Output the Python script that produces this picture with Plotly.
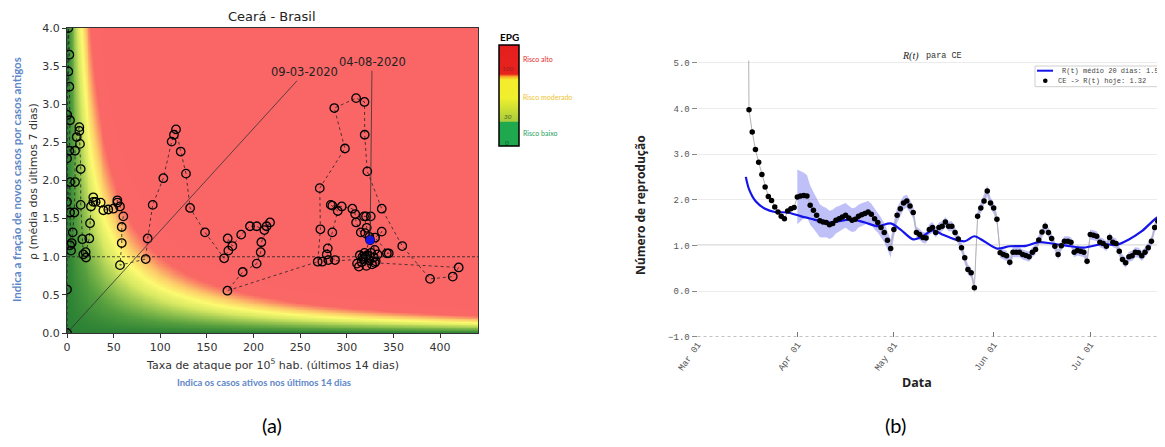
import numpy as np
import pandas as pd
import plotly.graph_objects as go

W, H = 1165, 447
# the page body adds an 8px offset; place everything in screen pixels
OX, OY = 8, 8


def px(xp):
    return (xp - OX) / W


def py(yp):
    return (H - (yp - OY)) / H


# ---------------- Panel (a): EPG diagram, Ceará ----------------
attack_rate = [
    0, 0, 0.3, 1.4, 2.5, 1.4, 2.5, 3.2, 2.5, 0,
    0, 3.2, 3.2, 4.3, 3.2, 5.0, 6.1, 7.9, 8.6, 8.6,
    10.4, 13.2, 13.2, 13.9, 14.7, 14.7, 16.4, 17.5, 20.4, 20.0,
    23.9, 24.7, 25.7, 28.2, 28.2, 30.7, 36.1, 39.0, 44.3, 49.7,
    54.0, 54.0, 56.8, 60.4, 58.7, 58.7, 56.8, 84.4, 86.5, 91.9,
    103.3, 112.2, 114.7, 116.9, 121.9, 127.6, 132.0, 148.0, 168.5, 173.0,
    172.3, 177.3, 186.8, 196.2, 203.4, 211.6, 214.0, 217.7, 208.4, 207.7,
    203.4, 188.4, 172.0, 268.8, 271.7, 271.0, 298.0, 286.6, 310.0, 319.0,
    319.2, 322.0, 337.5, 359.5, 389.3, 413.6, 420.0, 330.0, 321.0, 316.0,
    311.0, 313.0, 318.0, 273.8, 280.2, 287.4, 278.5, 279.6, 284.5, 290.3,
    282.8, 284.5, 294.6, 306.0, 309.0, 310.0, 315.0, 319.6, 321.4, 318.5,
    320.6, 325.7, 324.2, 320.0, 322.0, 319.0, 324.0, 327.0, 329.0, 331.0,
    333.0, 343.0, 345.0, 330.3, 337.5, 326.0, 314.0, 317.0, 330.0, 325.0,
]
rho = [
    0.0, 0.57, 2.86, 4.0, 3.65, 3.43, 3.23, 2.79, 2.39, 2.29,
    1.72, 1.98, 1.58, 1.08, 1.15, 1.18, 1.32, 1.58, 1.98, 2.39,
    2.57, 2.70, 2.65, 2.48, 2.15, 1.68, 1.23, 1.03, 0.99, 1.06,
    1.24, 1.44, 1.66, 1.78, 1.72, 1.72, 1.71, 1.61, 1.62, 1.63,
    1.74, 1.71, 1.66, 1.53, 1.39, 1.18, 0.89, 0.97, 1.24, 1.68,
    2.03, 2.51, 2.60, 2.67, 2.38, 2.09, 1.64, 1.32, 0.98, 1.08,
    1.24, 1.14, 1.29, 1.40, 1.40, 1.35, 1.40, 1.45, 1.19, 1.06,
    0.91, 0.80, 0.555, 0.935, 1.36, 1.90, 2.42, 2.95, 3.08, 3.03,
    2.60, 2.12, 1.63, 1.14, 0.71, 0.74, 0.86, 0.92, 0.88, 0.93,
    0.91, 0.87, 0.97, 0.935, 0.957, 0.957, 1.03, 1.11, 1.32, 1.60,
    1.68, 1.67, 1.66, 1.63, 1.56, 1.45, 1.32, 1.31, 1.38, 1.53,
    1.53, 1.53, 1.26, 1.00, 1.02, 1.05, 0.95, 0.90, 0.99, 0.94,
    1.03, 1.045, 1.045, 1.25, 1.33, 1.05, 1.02, 1.00, 1.09, 1.22,
]
first_label = "09-03-2020"
last_label = "04-08-2020"
label_first_pos = (255.0, 3.42)
label_last_pos = (327.1, 3.55)

# background risk field (EPG = rho x attack rate)
epg_levels = [0, 15, 30, 45, 60, 75, 90, 100, 150]
epg_colors = ["rgb(42,128,52)", "rgb(85,158,62)", "rgb(150,196,80)",
              "rgb(215,232,98)", "rgb(252,250,112)", "rgb(252,205,105)",
              "rgb(250,140,102)", "rgb(250,104,102)", "rgb(250,102,102)"]
grid_x = np.arange(0, 442, 1.0)
grid_y = np.arange(0, 4.0001, 0.02)
grid_epg = np.outer(grid_y, grid_x)

# EPG legend bar
bar_stops = [0.0, 0.245, 0.25, 0.40, 0.48, 0.66, 0.69, 0.715, 1.0]
bar_colors = ["rgb(32,168,78)", "rgb(32,168,78)", "rgb(170,205,60)",
              "rgb(215,228,50)", "rgb(240,240,45)", "rgb(245,235,45)",
              "rgb(250,170,40)", "rgb(232,35,30)", "rgb(228,30,30)"]
bar_labels = ["Risco alto", "Risco moderado", "Risco baixo"]
bar_label_colors = ["rgb(228,40,40)", "rgb(240,195,45)", "rgb(40,160,90)"]
bar_numbers = ["100", "30", "0"]

# ---------------- Panel (b): R(t) for CE ----------------
r_start = "2020-03-16"
r_values = [
    15.0,
    3.97, 3.48, 3.10, 2.82, 2.55, 2.28, 2.07, 1.98, 1.84, 1.73, 1.64, 1.58, 1.75, 1.80, 1.83,
    2.06, 2.08, 2.09, 2.08, 1.88, 1.77, 1.66, 1.54, 1.51, 1.50,
    1.45, 1.48, 1.55, 1.58, 1.62, 1.66, 1.60, 1.55, 1.57, 1.64,
    1.67, 1.70, 1.73, 1.68, 1.58, 1.50, 1.39, 1.28, 1.11, 0.93,
    1.35, 1.66, 1.80, 1.93, 1.97, 1.86, 1.72, 1.28, 1.24, 1.17,
    1.16, 1.35, 1.39, 1.28, 1.39, 1.42, 1.51, 1.42, 1.42, 1.28,
    1.14, 0.95, 0.73, 0.47, 0.40, 0.07, 1.64, 1.82, 1.97, 2.19, 1.93,
    1.82, 1.57, 0.84, 0.80, 0.77, 0.63, 0.85, 0.85, 0.85, 0.80,
    0.78, 0.75, 0.85, 0.91, 1.12, 1.29, 1.42, 1.28, 1.15, 0.98,
    0.80, 0.99, 1.09, 1.09, 1.07, 0.85, 0.89, 0.87, 0.85, 0.65,
    1.24, 1.22, 1.20, 1.07, 1.04, 0.98, 1.17, 1.07, 1.04, 0.87,
    0.69, 0.62, 0.75, 0.77, 0.85, 0.84, 0.77, 0.85, 0.95, 1.09,
    1.39, 1.53, 1.59, 1.61, 1.60,
]
ci_start = "2020-04-01"
ci_halfwidth = [
    0.60, 0.55, 0.50, 0.46, 0.43, 0.40, 0.38, 0.36, 0.34, 0.32,
    0.31, 0.30, 0.29, 0.28, 0.28, 0.27, 0.27, 0.26, 0.26, 0.25,
    0.25, 0.24, 0.24, 0.23, 0.23, 0.22, 0.22, 0.21, 0.20, 0.20,
    0.18, 0.17, 0.16, 0.15, 0.14, 0.14, 0.13, 0.13, 0.12, 0.12,
    0.12, 0.12, 0.12, 0.11, 0.11, 0.11, 0.11, 0.11, 0.11, 0.11,
    0.11, 0.11, 0.11, 0.11, 0.11, 0.11, 0.12, 0.12, 0.12, 0.12, 0.12,
    0.12, 0.12, 0.11, 0.11, 0.11, 0.11, 0.11, 0.11, 0.11, 0.11,
    0.11, 0.11, 0.11, 0.11, 0.11, 0.11, 0.11, 0.11, 0.11, 0.11,
    0.11, 0.11, 0.11, 0.11, 0.11, 0.11, 0.11, 0.11, 0.11, 0.11,
    0.11, 0.11, 0.11, 0.11, 0.11, 0.11, 0.11, 0.11, 0.11, 0.11,
    0.11, 0.11, 0.11, 0.11, 0.11, 0.11, 0.11, 0.11, 0.11, 0.11,
    0.11, 0.11, 0.11, 0.11, 0.11,
]
mean_dates = ["2020-03-16", "2020-03-17", "2020-03-19", "2020-03-22", "2020-03-25", "2020-03-29",
              "2020-04-02", "2020-04-06", "2020-04-10", "2020-04-14", "2020-04-18", "2020-04-22",
              "2020-04-26", "2020-04-30", "2020-05-03", "2020-05-07", "2020-05-10", "2020-05-13",
              "2020-05-16", "2020-05-20", "2020-05-23", "2020-05-26", "2020-05-29", "2020-06-02",
              "2020-06-06", "2020-06-11", "2020-06-15", "2020-06-19", "2020-06-25", "2020-06-29",
              "2020-07-05", "2020-07-09", "2020-07-13", "2020-07-17", "2020-07-21", "2020-07-23",
              "2020-07-25"]
mean_values = [2.50, 2.23, 1.97, 1.80, 1.73, 1.72, 1.64, 1.57, 1.50, 1.53, 1.57, 1.50,
               1.42, 1.48, 1.35, 1.13, 1.20, 1.33, 1.24, 1.13, 1.09, 1.20, 1.09, 0.93,
               0.98, 0.99, 1.07, 1.04, 0.98, 0.95, 1.03, 1.01, 1.13, 1.31, 1.57, 1.67, 1.72]
legend_mean = "R(t) médio 20 dias: 1.51"
legend_today = "CE -> R(t) hoje: 1.32"

r_dates = pd.date_range(r_start, periods=len(r_values), freq="D")
r_arr = np.array(r_values)
ci_dates = pd.date_range(ci_start, periods=len(ci_halfwidth), freq="D")
ci_center = pd.Series(r_arr, index=r_dates).reindex(ci_dates).values
ci_hw = np.array(ci_halfwidth)

fig = go.Figure()

# ---- panel a traces
fig.add_trace(go.Heatmap(
    x=grid_x, y=grid_y, z=grid_epg, zmin=0, zmax=150, zsmooth="best",
    colorscale=[[lv / 150, c] for lv, c in zip(epg_levels, epg_colors)],
    showscale=False, hoverinfo="skip", xaxis="x", yaxis="y"))
fig.add_trace(go.Scatter(
    x=attack_rate, y=rho, mode="lines+markers", xaxis="x", yaxis="y",
    line=dict(color="#222", width=0.8, dash="dot"),
    marker=dict(symbol="circle-open", size=8.5, color="black", line=dict(width=1.3)),
    showlegend=False))
fig.add_trace(go.Scatter(
    x=attack_rate[-1:], y=rho[-1:], mode="markers", xaxis="x", yaxis="y",
    marker=dict(size=9, color="rgb(20,20,240)"), showlegend=False))

# ---- EPG bar
bar_y = np.linspace(0, 1, 202)
fig.add_trace(go.Heatmap(
    x=[0], y=bar_y, z=[[v] for v in bar_y], zmin=0, zmax=1,
    colorscale=[[s, c] for s, c in zip(bar_stops, bar_colors)],
    showscale=False, hoverinfo="skip", xaxis="x3", yaxis="y3"))

# ---- panel b traces
fig.add_trace(go.Scatter(
    x=ci_dates, y=ci_center - ci_hw, mode="lines", line=dict(width=0),
    xaxis="x2", yaxis="y2", showlegend=False, hoverinfo="skip"))
fig.add_trace(go.Scatter(
    x=ci_dates, y=ci_center + ci_hw, mode="lines", line=dict(width=0),
    fill="tonexty", fillcolor="rgba(60,60,235,0.32)",
    xaxis="x2", yaxis="y2", showlegend=False, hoverinfo="skip"))
fig.add_trace(go.Scatter(
    x=r_dates, y=r_values, mode="lines", line=dict(color="#b3b3b3", width=1),
    xaxis="x2", yaxis="y2", showlegend=False))
fig.add_trace(go.Scatter(
    x=pd.to_datetime(mean_dates), y=mean_values, mode="lines",
    line=dict(color="rgb(20,20,235)", width=2.2, shape="spline", smoothing=0.8),
    xaxis="x2", yaxis="y2", showlegend=False))
fig.add_trace(go.Scatter(
    x=r_dates, y=r_values, mode="markers", marker=dict(color="black", size=5.5),
    xaxis="x2", yaxis="y2", showlegend=False))

tick_a = dict(family="DejaVu Sans", size=11, color="#333")
mono = dict(family="Liberation Mono", size=9, color="#555")

fig.update_layout(
    width=W, height=H, autosize=False,
    margin=dict(l=0, r=0, t=0, b=0, pad=0, autoexpand=False),
    paper_bgcolor="white", plot_bgcolor="white", showlegend=False,
    xaxis=dict(domain=[px(67), px(478)], range=[0, 440.7], anchor="y",
               tick0=0, dtick=50, ticks="outside", ticklen=4, tickcolor="#333",
               showline=True, mirror=True, linecolor="#333", linewidth=1,
               showgrid=False, zeroline=False, tickfont=tick_a, automargin=False),
    yaxis=dict(domain=[py(333), py(28)], range=[0, 4], anchor="x",
               tick0=0, dtick=0.5, tickformat=".1f", ticks="outside", ticklen=4,
               tickcolor="#333", showline=True, mirror=True, linecolor="#333",
               linewidth=1, showgrid=False, zeroline=False, tickfont=tick_a,
               automargin=False),
    xaxis2=dict(domain=[px(697.5), px(1165)], range=["2020-03-01", "2020-07-24 05:00"],
                anchor="y2", type="date", tick0="2020-03-01", dtick="M1",
                tickformat="%b %d", tickangle=-55, ticks="inside", ticklen=5,
                tickcolor="#777", showgrid=False, zeroline=False, showline=False,
                tickfont=mono, automargin=False),
    yaxis2=dict(domain=[py(336.7), py(60.4)], range=[-1.0, 5.05], anchor="x2",
                tick0=-1, dtick=1, tickformat=".1f", ticks="outside", ticklen=5,
                tickcolor="#888", showgrid=True, gridcolor="#ececec",
                zeroline=False, showline=False, tickfont=mono, automargin=False),
    xaxis3=dict(domain=[px(499), px(519)], range=[-0.5, 0.5], anchor="y3",
                visible=False),
    yaxis3=dict(domain=[py(146), py(45)], range=[0, 1], anchor="x3", visible=False),
)

shapes = [
    dict(type="line", xref="x", yref="y", x0=0, x1=440.7, y0=1, y1=1,
         line=dict(color="#222", width=0.8, dash="3px,2px"), layer="above"),
    dict(type="line", xref="x2 domain", yref="y2", x0=0, x1=1, y0=1, y1=1,
         line=dict(color="#8a8a8a", width=1.3), layer="below"),
    dict(type="line", xref="x2 domain", yref="y2", x0=0, x1=1, y0=-1, y1=-1,
         line=dict(color="#999", width=1, dash="dot"), layer="above"),
    dict(type="rect", xref="paper", yref="paper", x0=px(499), x1=px(519),
         y0=py(146), y1=py(45), line=dict(color="black", width=1.5)),
    dict(type="rect", xref="paper", yref="paper", x0=px(1035), x1=px(1175),
         y0=py(86.7), y1=py(66), fillcolor="white", line=dict(color="#cfcfcf", width=1),
         layer="above"),
    dict(type="line", xref="paper", yref="paper", x0=px(1037), x1=px(1053),
         y0=py(70.7), y1=py(70.7), line=dict(color="rgb(20,20,235)", width=2)),
    dict(type="circle", xref="paper", yref="paper", x0=px(1043), x1=px(1047.6),
         y0=py(83), y1=py(78.4), fillcolor="black", line=dict(color="black", width=0)),
]

anns = []


def text(xp, yp, t, font, angle=0, xanchor="center", yanchor="middle"):
    anns.append(dict(xref="paper", yref="paper", x=px(xp), y=py(yp), text=t,
                     showarrow=False, font=font, textangle=angle,
                     xanchor=xanchor, yanchor=yanchor))


# panel a labels
text(272, 16, "Ceará - Brasil", dict(family="DejaVu Sans", size=13, color="#222"))
text(272, 364, "Taxa de ataque por 10<sup>5</sup> hab. (últimos 14 dias)",
     dict(family="DejaVu Sans", size=11, color="#333"))
text(264, 382, "Indica os casos ativos nos últimos 14 dias",
     dict(family="Lato", size=9.5, color="rgb(95,135,200)", weight="bold"))
text(33, 182, "ρ (média dos últimos 7 dias)",
     dict(family="DejaVu Sans", size=11, color="#333"), angle=-90)
text(16, 180, "Indica a fração de novos casos por casos antigos",
     dict(family="Lato", size=11.5, color="rgb(95,135,200)", weight="bold"), angle=-90)
anns.append(dict(xref="x", yref="y", axref="x", ayref="y", x=attack_rate[0], y=rho[0],
                 ax=label_first_pos[0], ay=label_first_pos[1], text=first_label,
                 showarrow=True, arrowhead=0, arrowwidth=0.8, arrowcolor="#333",
                 font=dict(family="DejaVu Sans", size=11.5, color="#222")))
anns.append(dict(xref="x", yref="y", axref="x", ayref="y", x=attack_rate[-1], y=rho[-1],
                 ax=label_last_pos[0], ay=label_last_pos[1], text=last_label,
                 showarrow=True, arrowhead=0, arrowwidth=0.8, arrowcolor="#333",
                 font=dict(family="DejaVu Sans", size=11.5, color="#222")))

# EPG bar labels
text(509, 37, "EPG", dict(family="Lato", size=10, color="black", weight="bold"))
text(521, 59, bar_labels[0], dict(family="Lato", size=7, color=bar_label_colors[0]), xanchor="left")
text(521, 97, bar_labels[1], dict(family="Lato", size=7, color=bar_label_colors[1]), xanchor="left")
text(521, 133, bar_labels[2], dict(family="Lato", size=7, color=bar_label_colors[2]), xanchor="left")
text(508, 69, bar_numbers[0], dict(family="Lato", size=6.5, color="rgb(150,30,30)", style="italic"))
text(508, 116, bar_numbers[1], dict(family="Lato", size=6.5, color="rgb(80,100,40)", style="italic"))
text(507, 142, bar_numbers[2], dict(family="Lato", size=6.5, color="rgb(20,90,50)", style="italic"))

# panel b labels
text(921, 56, "<i>R(t)</i>", dict(family="Liberation Serif", size=10, color="#222"), xanchor="right")
text(924, 56.5, "para CE", dict(family="Liberation Mono", size=8.5, color="#333"), xanchor="left")
text(640, 205, "Número de reprodução",
     dict(family="Open Sans", size=12, color="#222", weight="bold"), angle=-90)
text(917, 382, "Data", dict(family="Open Sans", size=12.5, color="#222", weight="bold"))
text(1060, 70.7, legend_mean, dict(family="Liberation Mono", size=7, color="#444"), xanchor="left")
text(1056, 80.7, legend_today, dict(family="Liberation Mono", size=7, color="#444"), xanchor="left")

# subplot captions
text(272, 425, "(a)", dict(family="Lato", size=20, color="black"))
text(895, 425, "(b)", dict(family="Lato", size=20, color="black"))

fig.update_layout(shapes=shapes, annotations=anns)
fig.write_html("out.html")
